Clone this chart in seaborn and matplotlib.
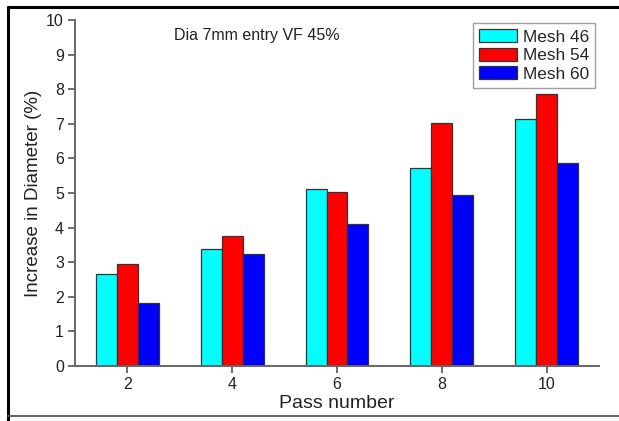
import matplotlib
matplotlib.use("Agg")
import matplotlib.pyplot as plt
from matplotlib.lines import Line2D
import seaborn as sns
import pandas as pd

passes = ["2", "4", "6", "8", "10"]
mesh46 = [2.67, 3.39, 5.12, 5.72, 7.14]
mesh54 = [2.96, 3.76, 5.02, 7.02, 7.86]
mesh60 = [1.82, 3.23, 4.10, 4.94, 5.87]
series_names = ["Mesh 46", "Mesh 54", "Mesh 60"]
colors = ["#00FFFF", "#FF0000", "#0000FF"]
y_ticks = [0, 1, 2, 3, 4, 5, 6, 7, 8, 9, 10]
annotation = "Dia 7mm entry VF 45%"

rows = []
for name, vals in zip(series_names, [mesh46, mesh54, mesh60]):
    for p, v in zip(passes, vals):
        rows.append({"Pass number": p, "value": v, "mesh": name})
df = pd.DataFrame(rows)

sns.set_style("ticks")
plt.rcParams["font.family"] = ["Liberation Sans", "DejaVu Sans"]

fig = plt.figure(figsize=(6.19, 4.21), dpi=100)
ax = fig.add_axes([75 / 619, 55 / 421, 524 / 619, 346 / 421])

sns.barplot(data=df, x="Pass number", y="value", hue="mesh", order=passes,
            hue_order=series_names, palette=colors, width=0.6, errorbar=None,
            edgecolor="#333333", linewidth=0.9, saturation=1, ax=ax)

ax.set_xlim(-0.5, 4.5)
ax.set_ylim(0, 10)
ax.set_yticks(y_ticks)
ax.set_ylabel("Increase in Diameter (%)", fontsize=13.5, color="#222222", labelpad=3)
ax.set_xlabel("Pass number", fontsize=14, color="#222222", labelpad=2)
ax.tick_params(axis="both", direction="out", length=5, width=1.2, color="#555555",
               labelsize=11.5, labelcolor="#222222", pad=3)
for s in ["top", "right"]:
    ax.spines[s].set_visible(False)
for s in ["left", "bottom"]:
    ax.spines[s].set_color("#666666")
    ax.spines[s].set_linewidth(1.4)

ax.text(0.189, 0.955, annotation, transform=ax.transAxes, ha="left", va="center",
        fontsize=11.5, color="#222222")

leg = ax.legend(loc="upper right", bbox_to_anchor=(0.992, 0.99), borderaxespad=0,
                fontsize=12.4, frameon=True, fancybox=False, handlelength=2.25,
                handleheight=0.75, handletextpad=0.3, labelspacing=0.18,
                borderpad=0.35, title=None)
leg.get_frame().set_edgecolor("#888888")
leg.get_frame().set_linewidth(1.0)

# outer frame
fig.add_artist(Line2D([8 / 619, 8 / 619], [0, 1 - 7 / 421], transform=fig.transFigure,
                      color="black", lw=2.2))
fig.add_artist(Line2D([8 / 619, 1], [1 - 7 / 421, 1 - 7 / 421], transform=fig.transFigure,
                      color="black", lw=2.2))
fig.add_artist(Line2D([8 / 619, 1], [1 - 416 / 421, 1 - 416 / 421], transform=fig.transFigure,
                      color="#555555", lw=1.3))

fig.savefig("out.png", dpi=100)
